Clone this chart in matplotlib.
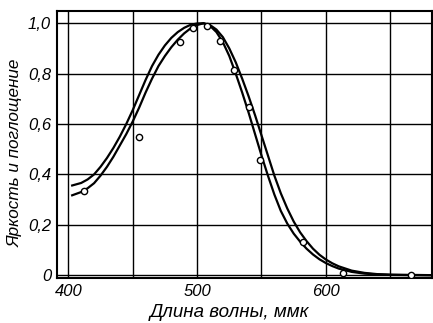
import matplotlib
matplotlib.use("Agg")
import matplotlib.pyplot as plt

# Curve 1 (outer / wider curve)
wl_a = [403, 410, 415, 420, 425, 430, 435, 440, 445, 450, 455, 460, 465, 470, 475,
        480, 485, 490, 495, 500, 505, 510, 515, 520, 525, 530, 535, 540, 545, 550,
        555, 560, 565, 570, 575, 580, 585, 590, 595, 600, 605, 610, 620, 630, 640,
        650, 660, 683]
val_a = [0.356, 0.366, 0.38, 0.40, 0.43, 0.465, 0.505, 0.55, 0.60, 0.655, 0.715, 0.775, 0.83, 0.875, 0.912,
         0.942, 0.965, 0.982, 0.994, 0.999, 1.0, 0.993, 0.975, 0.945, 0.90, 0.845, 0.78, 0.71, 0.635, 0.555,
         0.475, 0.395, 0.325, 0.265, 0.213, 0.17, 0.135, 0.105, 0.081, 0.062, 0.047, 0.035, 0.018, 0.009, 0.004,
         0.002, 0.001, 0.0]

# Curve 2 (inner / narrower curve)
wl_b = [403, 410, 415, 420, 425, 430, 435, 440, 445, 450, 455, 460, 465, 470, 475,
        480, 485, 490, 495, 500, 505, 510, 515, 520, 525, 530, 535, 540, 545, 550,
        555, 560, 565, 570, 575, 580, 585, 590, 595, 600, 605, 610, 620, 630, 640,
        650, 683]
val_b = [0.317, 0.33, 0.345, 0.365, 0.395, 0.43, 0.47, 0.515, 0.56, 0.61, 0.665, 0.725, 0.78, 0.83, 0.87,
         0.905, 0.935, 0.96, 0.98, 0.993, 1.0, 0.99, 0.965, 0.925, 0.87, 0.80, 0.725, 0.645, 0.56, 0.475,
         0.395, 0.32, 0.255, 0.205, 0.165, 0.133, 0.105, 0.082, 0.063, 0.048, 0.036, 0.026, 0.013, 0.006, 0.003,
         0.001, 0.0]

# Measured points
pt_wl = [412, 455, 486.5, 496.5, 508, 518, 528.5, 540, 549, 582, 613.5, 666]
pt_val = [0.333, 0.55, 0.927, 0.983, 0.99, 0.93, 0.815, 0.668, 0.458, 0.133, 0.01, 0.0]

xticks = [400, 500, 600]
xtick_labels = ["400", "500", "600"]
yticks = [0, 0.2, 0.4, 0.6, 0.8, 1.0]
ytick_labels = ["0", "0,2", "0,4", "0,6", "0,8", "1,0"]

plt.rcParams['font.family'] = ['Liberation Sans', 'DejaVu Sans']

fig = plt.figure(figsize=(4.33, 3.23), dpi=100)
ax = fig.add_axes([0.131, 0.138, 0.867, 0.829])

ax.set_xlim(391, 682.5)
ax.set_ylim(-0.013, 1.05)

for x in [400, 450, 500, 550, 600, 650]:
    ax.axvline(x, color='black', lw=1.0, zorder=1)
for y in yticks:
    ax.axhline(y, color='black', lw=1.0, zorder=1)

ax.plot(wl_a, val_a, color='black', lw=1.6, zorder=2)
ax.plot(wl_b, val_b, color='black', lw=1.6, zorder=2)
ax.plot(pt_wl, pt_val, linestyle='none', marker='o', ms=4.5, mfc='white',
        mec='black', mew=1.0, zorder=3)

ax.set_xticks(xticks)
ax.set_xticklabels(xtick_labels, fontsize=12, style='italic')
ax.set_yticks(yticks)
ax.set_yticklabels(ytick_labels, fontsize=12, style='italic')
ax.tick_params(length=0, pad=4)

for s in ax.spines.values():
    s.set_linewidth(1.5)

fig.text(0.530, 0.031, "Длина волны, ммк", fontsize=13.5, style='italic',
         ha='center', va='center')
fig.text(0.0346, 0.526, "Яркость и поглощение", fontsize=12.3, style='italic',
         ha='center', va='center', rotation=90)

fig.savefig("out.png", dpi=100)
